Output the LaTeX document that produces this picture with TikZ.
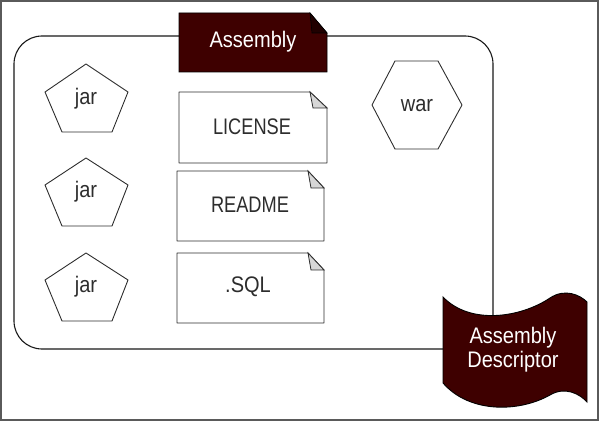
\documentclass[tikz,border=0pt]{standalone}
\usepackage{fontspec}
\setmainfont{Liberation Sans}[FakeStretch=0.89]
\newfontfamily\narrowfont{Liberation Sans}[FakeStretch=0.81]
\definecolor{maroon}{RGB}{62,0,0}
\definecolor{maroondark}{RGB}{32,0,0}
\definecolor{txtgray}{RGB}{45,45,45}
\definecolor{linegray}{RGB}{45,45,45}
\definecolor{foldgray}{RGB}{215,215,215}
\definecolor{framegray}{RGB}{90,90,90}
\begin{document}
\begin{tikzpicture}[x=1pt,y=-1pt,
  shapeline/.style={draw=linegray,line width=0.9pt,line join=round},
  darkshape/.style={draw=black,line width=0.9pt,fill=maroon},
  docfold/.style={draw=linegray,line width=0.8pt,fill=foldgray},
  lbl/.style={anchor=base,inner sep=0pt,text=txtgray,font=\fontsize{22.5}{24}\selectfont},
  wlbl/.style={anchor=base,inner sep=0pt,text=white,font=\fontsize{22.5}{24}\selectfont}]
\useasboundingbox (0,0) rectangle (600,422);
% outer frame
\draw[framegray,line width=1.5pt] (1,1) rectangle (598,420);
% container
\draw[draw=black!90,line width=1.1pt,rounded corners=28pt] (14,36) rectangle (493,349);
% Assembly tab
\filldraw[darkshape] (179,13) -- (310,13) -- (327,33) -- (327,72) -- (179,72) -- cycle;
\filldraw[draw=black,line width=0.6pt,fill=maroondark] (310,13) -- (312,33) -- (327,33) -- cycle;
\node[wlbl] (tab) at (253,48) {Assembly};
% jar pentagons
\draw[shapeline] (86,64) -- (128,92) -- (112,132) -- (62,132) -- (45,92) -- cycle;
\draw[shapeline] (86,158) -- (128,185) -- (112,226) -- (62,226) -- (45,185) -- cycle;
\draw[shapeline] (86,253) -- (128,280) -- (112,321) -- (62,321) -- (45,280) -- cycle;
\node[lbl] (jar1) at (86,105) {jar};
\node[lbl] (jar2) at (86,198) {jar};
\node[lbl] (jar3) at (86,292) {jar};
% war hexagon
\draw[shapeline] (372,105) -- (395,61) -- (438,61) -- (462,105) -- (438,149) -- (395,149) -- cycle;
\node[lbl] (war) at (417,112) {war};
% documents
\draw[shapeline] (179,92) -- (310,92) -- (327,108) -- (327,163) -- (179,163) -- cycle;
\filldraw[docfold] (310,92) -- (313,108) -- (327,108) -- cycle;
\node[lbl] (license) at (252,135) {\narrowfont LICENSE};
\draw[shapeline] (177,171) -- (308,171) -- (324,188) -- (324,241) -- (177,241) -- cycle;
\filldraw[docfold] (308,171) -- (311,188) -- (324,188) -- cycle;
\node[lbl] (readme) at (250,213) {\narrowfont README};
\draw[shapeline] (177,253) -- (308,253) -- (324,270) -- (324,323) -- (177,323) -- cycle;
\filldraw[docfold] (308,253) -- (311,270) -- (324,270) -- cycle;
\node[lbl] (sql) at (248,293) {.SQL};
% Assembly Descriptor wave
\filldraw[darkshape] (443,297) .. controls (470,325) and (520,318) .. (550,298)
  .. controls (565,288) and (580,295) .. (587,302)
  -- (587,402)
  .. controls (580,394) and (565,386) .. (550,395)
  .. controls (520,412) and (470,414) .. (443,383) -- cycle;
\node[wlbl] (desc1) at (513,343) {Assembly};
\node[wlbl] (desc2) at (513,367) {Descriptor};
\end{tikzpicture}
\end{document}
